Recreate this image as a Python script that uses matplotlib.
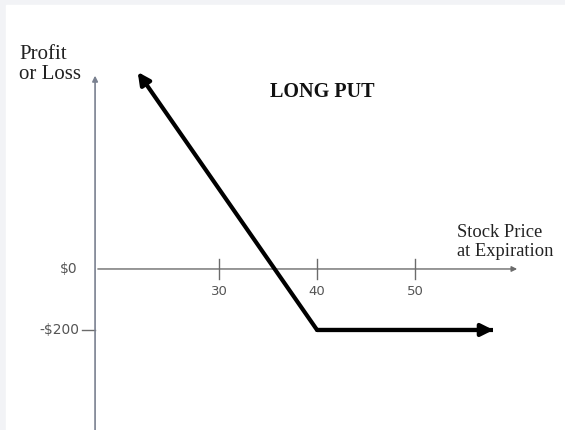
import matplotlib.pyplot as plt
from matplotlib.patches import Rectangle

# Data
strike = 40
premium_loss = -200
payoff_prices = [21.7, 40, 58]
payoff_values = [646, -200, -200]
x_ticks = [30, 40, 50]
x_tick_labels = ["30", "40", "50"]
y_ticks = [0, -200]
y_tick_labels = ["$0", "-$200"]

# Figure (axes cover the whole canvas, data units map to pixels)
fig = plt.figure(figsize=(5.65, 4.30), dpi=100, facecolor="#f2f3f6")
fig.patches.append(Rectangle((6 / 565, 0), 1, 1 - 5 / 430,
                             transform=fig.transFigure, color="white",
                             zorder=-1))
ax = fig.add_axes([0, 0, 1, 1])
ax.set_xlim(7.65, 65.3)
ax.set_ylim(-528, 882)
ax.axis("off")

axis_color = "#6b6b6b"
y_axis_x = 17.35

# y axis with arrow
ax.annotate("", xy=(y_axis_x, 643), xytext=(y_axis_x, -540),
            arrowprops=dict(arrowstyle="-|>", color="#7a8190", lw=1.2,
                            mutation_scale=8))
# x axis with arrow
ax.annotate("", xy=(60.7, 0), xytext=(y_axis_x, 0),
            arrowprops=dict(arrowstyle="-|>", color=axis_color, lw=1.0,
                            mutation_scale=8))

# x ticks
for t, lab in zip(x_ticks, x_tick_labels):
    ax.plot([t, t], [-33, 33], color=axis_color, lw=1.0)
    ax.text(t, -52, lab, ha="center", va="top", fontsize=9.5,
            color="#555555", family="DejaVu Sans")

# y ticks
ax.plot([y_axis_x - 1.35, y_axis_x], [-200, -200], color=axis_color, lw=1.0)
for t, lab, off in zip(y_ticks, y_tick_labels, [1.75, 1.55]):
    ax.text(y_axis_x - off, t, lab, ha="right", va="center", fontsize=10,
            color="#555555", family="DejaVu Sans")

# payoff line
ax.plot(payoff_prices[1:], payoff_values[1:], color="black", lw=3,
        solid_capstyle="butt")
ax.annotate("", xy=(payoff_prices[0], payoff_values[0]),
            xytext=(payoff_prices[1], payoff_values[1]),
            arrowprops=dict(arrowstyle="-|>", color="black", lw=3,
                            mutation_scale=18, shrinkA=0, shrinkB=0))
ax.annotate("", xy=(payoff_prices[2], payoff_values[2]),
            xytext=(payoff_prices[1], payoff_values[1]),
            arrowprops=dict(arrowstyle="-|>", color="black", lw=3,
                            mutation_scale=18, shrinkA=0, shrinkB=0))

# labels
serif = "Liberation Serif"
ax.text(9.6, 670, "Profit\nor Loss", ha="left", va="center", fontsize=15,
        family=serif, color="#222222", linespacing=1.1)
ax.text(40.5, 580, "LONG PUT", ha="center", va="center", fontsize=14.5,
        family=serif, fontweight="bold", color="#111111")
ax.text(54.3, 88, "Stock Price\nat Expiration", ha="left", va="center",
        fontsize=13.3, family=serif, color="#222222", linespacing=1.1)

fig.savefig("out.png", dpi=100, facecolor=fig.get_facecolor())
